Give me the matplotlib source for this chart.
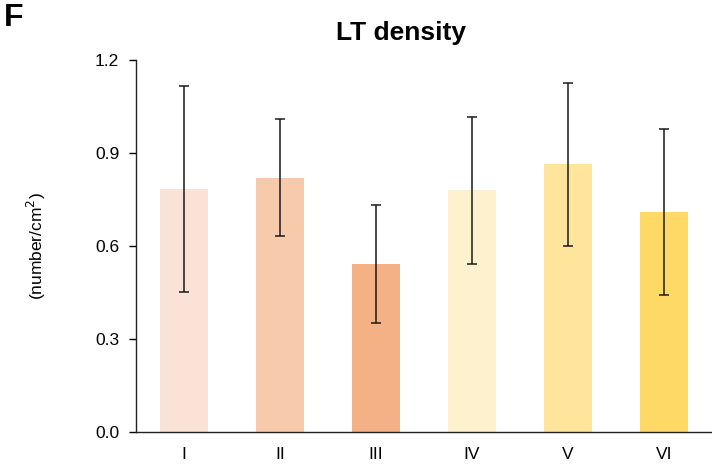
import matplotlib
matplotlib.use('Agg')
import matplotlib.pyplot as plt
import numpy as np

plt.rcParams['font.family'] = ['Liberation Sans', 'DejaVu Sans']

groups = ['I', 'II', 'III', 'IV', 'V', 'VI']
density = [0.783, 0.819, 0.542, 0.778, 0.862, 0.709]
sd = [0.332, 0.188, 0.190, 0.237, 0.262, 0.267]
colors = ['#FAE3D6', '#F7CAAC', '#F4B185', '#FEF1CD', '#FEE59B', '#FFD966']
yticks = [0.0, 0.3, 0.6, 0.9, 1.2]

fig = plt.figure(figsize=(7.12, 4.70), dpi=100)
ax = fig.add_axes([136 / 712, 1 - 432 / 470, (712 - 136) / 712, (432 - 59.5) / 470])

x = np.arange(len(groups))
ax.bar(x, density, width=0.5, color=colors)
ax.errorbar(x, density, yerr=sd, fmt='none', ecolor='#1a1a1a',
            elinewidth=1.1, capsize=3.5, capthick=1.1)

ax.set_xlim(-0.5, 5.5)
ax.set_ylim(0, 1.2)
ax.set_yticks(yticks)
ax.set_yticklabels([f'{v:.1f}' for v in yticks], fontsize=12.5)
ax.set_xticks(x)
ax.set_xticklabels(groups, fontsize=12.5)
ax.tick_params(axis='x', length=0, pad=10.5)
ax.tick_params(axis='y', length=5, width=1, pad=7)

for s in ['top', 'right']:
    ax.spines[s].set_visible(False)
for s in ['left', 'bottom']:
    ax.spines[s].set_linewidth(1)
    ax.spines[s].set_color('#222222')

ax.set_ylabel('(number/cm$^2$)', fontsize=12.5)
ax.yaxis.set_label_coords(-0.152, 0.5)

fig.text(401 / 712, 1 - 33 / 470, 'LT density', ha='center', va='center',
         fontsize=19, fontweight='bold')
fig.text(4 / 712, 1 - 18 / 470, 'F', ha='left', va='center',
         fontsize=23, fontweight='bold')

fig.savefig('out.png', dpi=100)
